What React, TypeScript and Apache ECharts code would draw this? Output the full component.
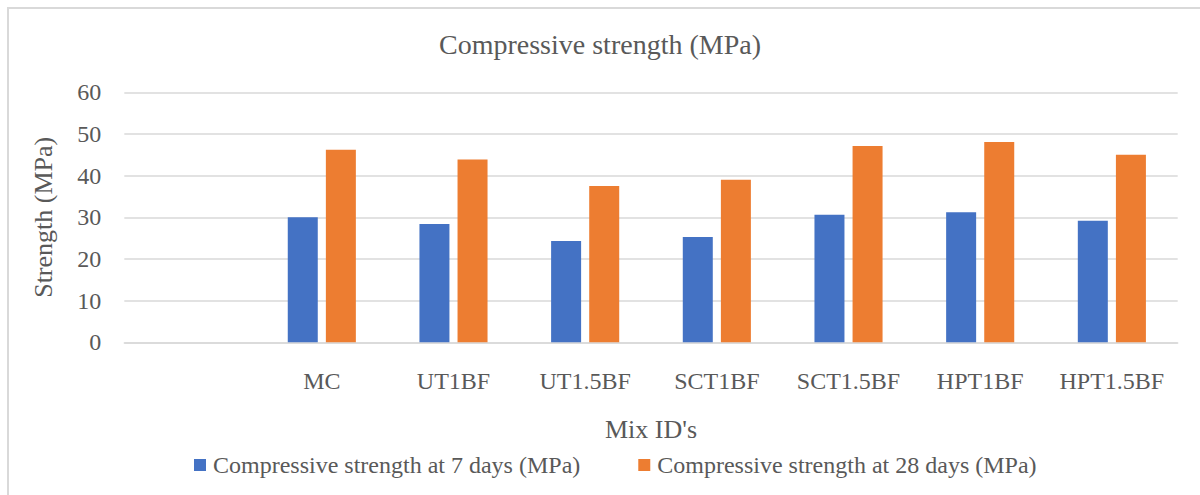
import React, { useEffect, useRef } from "react";
import * as echarts from "echarts";

const categories = ["", "MC", "UT1BF", "UT1.5BF", "SCT1BF", "SCT1.5BF", "HPT1BF", "HPT1.5BF"];
const strength7 = [null, 30.0, 28.4, 24.3, 25.3, 30.6, 31.2, 29.2];
const strength28 = [null, 46.2, 43.9, 37.5, 39.0, 47.1, 48.1, 45.0];
const seriesNames = ["Compressive strength at 7 days (MPa)", "Compressive strength at 28 days (MPa)"];
const titleText = "Compressive strength (MPa)";
const xName = "Mix ID's";
const yName = "Strength (MPa)";

const FONT = "'Liberation Serif', 'Times New Roman', serif";
const TEXT = "#595959";
const GRID = "#d9d9d9";

export default function App() {
  const ref = useRef<HTMLDivElement>(null);
  useEffect(() => {
    document.body.style.margin = "0";
    const chart = echarts.init(ref.current!, null, { renderer: "svg" });
    chart.setOption({
      animation: false,
      backgroundColor: "#ffffff",
      textStyle: { fontFamily: FONT, color: TEXT },
      title: {
        text: titleText,
        left: "center",
        top: 25,
        textStyle: { fontFamily: FONT, fontSize: 28, fontWeight: "normal", color: TEXT },
      },
      graphic: [
        {
          type: "rect",
          z: -10,
          silent: true,
          shape: { x: 8, y: 8, width: 1400, height: 800 },
          style: { fill: "none", stroke: GRID, lineWidth: 2 },
        },
      ],
      legend: {
        left: 189,
        top: 448,
        itemWidth: 12,
        itemHeight: 12,
        itemGap: 58,
        icon: "rect",
        textStyle: { fontFamily: FONT, fontSize: 24, color: TEXT, padding: [0, 0, 0, 2] },
        data: seriesNames,
      },
      grid: { left: 124.3, right: 22.3, top: 92.3, bottom: 152.7 },
      xAxis: {
        type: "category",
        data: categories,
        name: xName,
        nameLocation: "middle",
        nameGap: 74,
        nameTextStyle: { fontFamily: FONT, fontSize: 26, color: TEXT },
        axisLine: { lineStyle: { color: GRID, width: 1.5 } },
        axisTick: { show: false },
        axisLabel: { fontFamily: FONT, fontSize: 24, color: TEXT, margin: 27, interval: 0 },
      },
      yAxis: {
        type: "value",
        min: 0,
        max: 60,
        interval: 10,
        name: yName,
        nameLocation: "middle",
        nameGap: 68,
        nameRotate: 90,
        nameTextStyle: { fontFamily: FONT, fontSize: 26, color: TEXT },
        axisLine: { show: false },
        axisTick: { show: false },
        axisLabel: { fontFamily: FONT, fontSize: 24, color: TEXT, margin: 23 },
        splitLine: { lineStyle: { color: GRID, width: 1.5 } },
      },
      series: [
        {
          name: seriesNames[0],
          type: "bar",
          data: strength7,
          barWidth: 30,
          barGap: "27%",
          itemStyle: { color: "#4472C4" },
        },
        {
          name: seriesNames[1],
          type: "bar",
          data: strength28,
          barWidth: 30,
          barGap: "27%",
          itemStyle: { color: "#ED7D31" },
        },
      ],
    });
    return () => chart.dispose();
  }, []);
  return <div ref={ref} style={{ width: 1200, height: 495 }} />;
}
